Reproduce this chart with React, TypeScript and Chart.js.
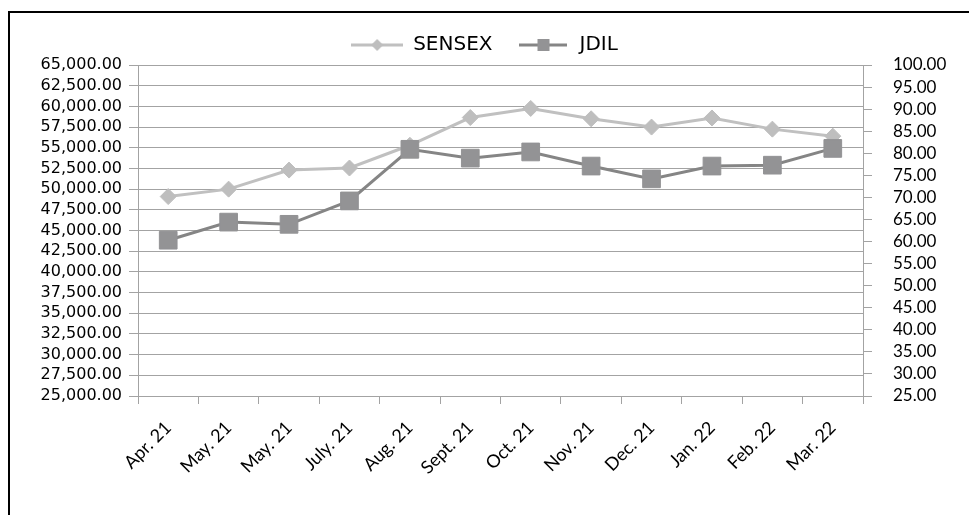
import React, { useEffect, useRef } from 'react';
import { Chart, registerables } from 'chart.js';

Chart.register(...registerables);

const categories = ['Apr. 21', 'May. 21', 'May. 21', 'July. 21', 'Aug. 21', 'Sept. 21', 'Oct. 21', 'Nov. 21', 'Dec. 21', 'Jan. 22', 'Feb. 22', 'Mar. 22'];
const sensexValues = [49100, 50000, 52300, 52550, 55300, 58650, 59750, 58500, 57500, 58600, 57250, 56400];
const jdilValues = [60.3, 64.4, 63.9, 69.2, 80.9, 78.9, 80.3, 77.1, 74.2, 77.1, 77.3, 81.1];
const seriesNames = ['SENSEX', 'JDIL'];
const leftAxisRange = { min: 25000, max: 65000, step: 2500 };
const rightAxisRange = { min: 25, max: 100, step: 5 };

const SENSEX_LINE = '#C0C0C0';
const SENSEX_MARK = '#BEBEBE';
const JDIL_LINE = '#858585';
const JDIL_MARK = '#939395';
const GRID = '#A3A3A3';

function makeLegendImage(lineColor: string, markColor: string, kind: 'diamond' | 'square', width: number, half: number) {
  const c = document.createElement('canvas');
  c.width = width;
  c.height = 20;
  const g = c.getContext('2d')!;
  g.strokeStyle = lineColor;
  g.lineWidth = 3;
  g.beginPath();
  g.moveTo(0, 10);
  g.lineTo(width, 10);
  g.stroke();
  g.fillStyle = markColor;
  const cx = width / 2;
  if (kind === 'diamond') {
    g.beginPath();
    g.moveTo(cx, 10 - half);
    g.lineTo(cx + half, 10);
    g.lineTo(cx, 10 + half);
    g.lineTo(cx - half, 10);
    g.closePath();
    g.fill();
  } else {
    g.fillRect(cx - half, 10 - half, 2 * half, 2 * half);
  }
  return c;
}

export default function App() {
  const ref = useRef<HTMLCanvasElement | null>(null);

  useEffect(() => {
    if (!ref.current) return;
    const sensexImg = makeLegendImage(SENSEX_LINE, SENSEX_MARK, 'diamond', 52, 6);
    const jdilImg = makeLegendImage(JDIL_LINE, JDIL_MARK, 'square', 48, 6);

    const chart = new Chart(ref.current, {
      type: 'line',
      data: {
        labels: categories,
        datasets: [
          {
            label: seriesNames[0],
            data: sensexValues,
            yAxisID: 'y',
            borderColor: SENSEX_LINE,
            backgroundColor: SENSEX_MARK,
            borderWidth: 3,
            pointStyle: 'rectRot',
            pointRadius: 8,
            pointBorderWidth: 1,
            pointBorderColor: SENSEX_MARK,
            pointBackgroundColor: SENSEX_MARK,
            tension: 0,
            order: 1,
          },
          {
            label: seriesNames[1],
            data: jdilValues,
            yAxisID: 'y1',
            borderColor: JDIL_LINE,
            backgroundColor: JDIL_MARK,
            borderWidth: 3,
            pointStyle: 'rect',
            pointRadius: 12.5,
            pointBorderWidth: 1,
            pointBorderColor: JDIL_MARK,
            pointBackgroundColor: JDIL_MARK,
            tension: 0,
            order: 0,
          },
        ],
      },
      options: {
        responsive: false,
        animation: false,
        layout: { padding: { top: 10, left: 0, right: 0, bottom: 0 } },
        plugins: {
          tooltip: { enabled: false },
          legend: {
            display: true,
            position: 'top',
            align: 'center',
            labels: {
              usePointStyle: true,
              pointStyleWidth: 52,
              padding: 25,
              color: '#000',
              font: { family: 'DejaVu Sans', size: 20 },
              generateLabels: () => [
                { text: seriesNames[0], pointStyle: sensexImg as any, fillStyle: SENSEX_MARK, strokeStyle: SENSEX_LINE, lineWidth: 0, hidden: false, datasetIndex: 0, fontColor: '#000' },
                { text: seriesNames[1], pointStyle: jdilImg as any, fillStyle: JDIL_MARK, strokeStyle: JDIL_LINE, lineWidth: 0, hidden: false, datasetIndex: 1, fontColor: '#000' },
              ],
            },
          },
        },
        scales: {
          x: {
            type: 'category',
            offset: true,
            grid: { display: true, drawOnChartArea: false, drawTicks: true, tickLength: 8, offset: true, color: GRID },
            border: { display: true, color: GRID, width: 1 },
            ticks: {
              autoSkip: false,
              minRotation: 45,
              maxRotation: 45,
              padding: 13,
              color: '#000',
              font: { family: 'Lato', size: 18 },
            },
            afterFit: (s: any) => { s.height = 119; },
          },
          y: {
            position: 'left',
            min: leftAxisRange.min,
            max: leftAxisRange.max,
            grid: { display: true, drawOnChartArea: true, drawTicks: true, tickLength: 9, color: GRID },
            border: { display: true, color: GRID, width: 1 },
            ticks: {
              autoSkip: false,
              stepSize: leftAxisRange.step,
              padding: 7,
              color: '#000',
              font: { family: 'DejaVu Sans', size: 16, lineHeight: 1 },
              callback: (v: any) => Number(v).toLocaleString('en-US', { minimumFractionDigits: 2, maximumFractionDigits: 2 }),
            },
            afterFit: (s: any) => { s.width = 138; },
          },
          y1: {
            position: 'right',
            min: rightAxisRange.min,
            max: rightAxisRange.max,
            grid: { display: true, drawOnChartArea: false, drawTicks: true, tickLength: 9, color: GRID },
            border: { display: true, color: GRID, width: 1 },
            ticks: {
              autoSkip: false,
              stepSize: rightAxisRange.step,
              padding: 21,
              color: '#000',
              font: { family: 'Lato', size: 17, lineHeight: 1 },
              callback: (v: any) => Number(v).toFixed(2),
            },
            afterFit: (s: any) => { s.width = 106; },
          },
        },
      },
    });
    return () => chart.destroy();
  }, []);

  return (
    <div>
      <div
        style={{
          position: 'fixed',
          left: 8,
          top: 11,
          width: 2000,
          height: 2000,
          borderTop: '2px solid #000',
          borderLeft: '2px solid #000',
          boxSizing: 'border-box',
        }}
      />
      <canvas
        ref={ref}
        width={969}
        height={515}
        style={{ position: 'fixed', left: 0, top: 0, width: 969, height: 515 }}
      />
    </div>
  );
}
